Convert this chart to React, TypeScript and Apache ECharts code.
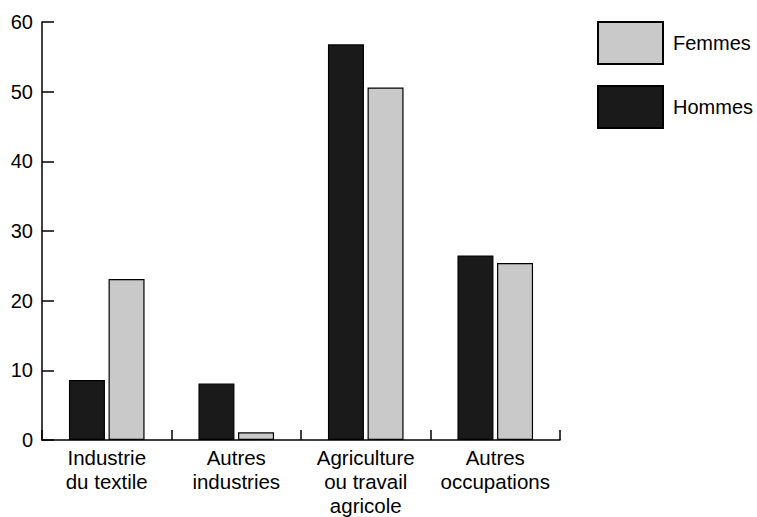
import React, { useEffect, useRef } from "react";
import * as echarts from "echarts";

const categories = [
  "Industrie\ndu textile",
  "Autres\nindustries",
  "Agriculture\nou travail\nagricole",
  "Autres\noccupations",
];
const hommes = [8.6, 8.1, 56.8, 26.5];
const femmes = [23.1, 1.1, 50.6, 25.4];
const yTicks = { min: 0, max: 60, interval: 10 };

const FONT = "'Liberation Sans', Arial, Helvetica, sans-serif";

export default function App() {
  const ref = useRef<HTMLDivElement>(null);
  useEffect(() => {
    document.body.style.margin = "0";
    const chart = echarts.init(ref.current!, null, { renderer: "svg" });
    chart.setOption({
      animation: false,
      backgroundColor: "#ffffff",
      textStyle: { fontFamily: FONT, color: "#000" },
      grid: {
        left: 42,
        right: 197,
        top: 22,
        bottom: 77,
        containLabel: false,
        outerBoundsMode: "none",
      },
      legend: {
        orient: "vertical",
        left: 597,
        top: 21,
        itemWidth: 65,
        itemHeight: 42,
        itemGap: 20,
        padding: 0,
        icon: "rect",
        data: ["Femmes", "Hommes"],
        textStyle: { fontFamily: FONT, fontSize: 20, color: "#000", padding: [0, 0, 0, 5] },
      },
      xAxis: {
        type: "category",
        data: categories,
        axisLine: { show: true, lineStyle: { color: "#000", width: 1.5 } },
        axisTick: { show: true, inside: true, length: 10, lineStyle: { color: "#000", width: 1.5 } },
        axisLabel: { color: "#000", fontSize: 20.5, fontFamily: FONT, lineHeight: 24, margin: 5, interval: 0 },
        splitLine: { show: false },
      },
      yAxis: {
        type: "value",
        min: yTicks.min,
        max: yTicks.max,
        interval: yTicks.interval,
        axisLine: { show: true, lineStyle: { color: "#000", width: 1.5 } },
        axisTick: { show: true, inside: true, length: 12, lineStyle: { color: "#000", width: 1.5 } },
        axisLabel: { color: "#000", fontSize: 20, fontFamily: FONT, margin: 9 },
        splitLine: { show: false },
      },
      series: [
        {
          name: "Hommes",
          type: "bar",
          data: hommes,
          barWidth: 36,
          barGap: "10%",
          itemStyle: { color: "#1a1a1a", borderColor: "#000", borderWidth: 1.2 },
        },
        {
          name: "Femmes",
          type: "bar",
          data: femmes,
          barWidth: 36,
          barGap: "10%",
          itemStyle: { color: "#c9c9c9", borderColor: "#000", borderWidth: 1.2 },
        },
      ],
    });
    return () => chart.dispose();
  }, []);
  return <div ref={ref} style={{ width: 757, height: 517 }} />;
}
